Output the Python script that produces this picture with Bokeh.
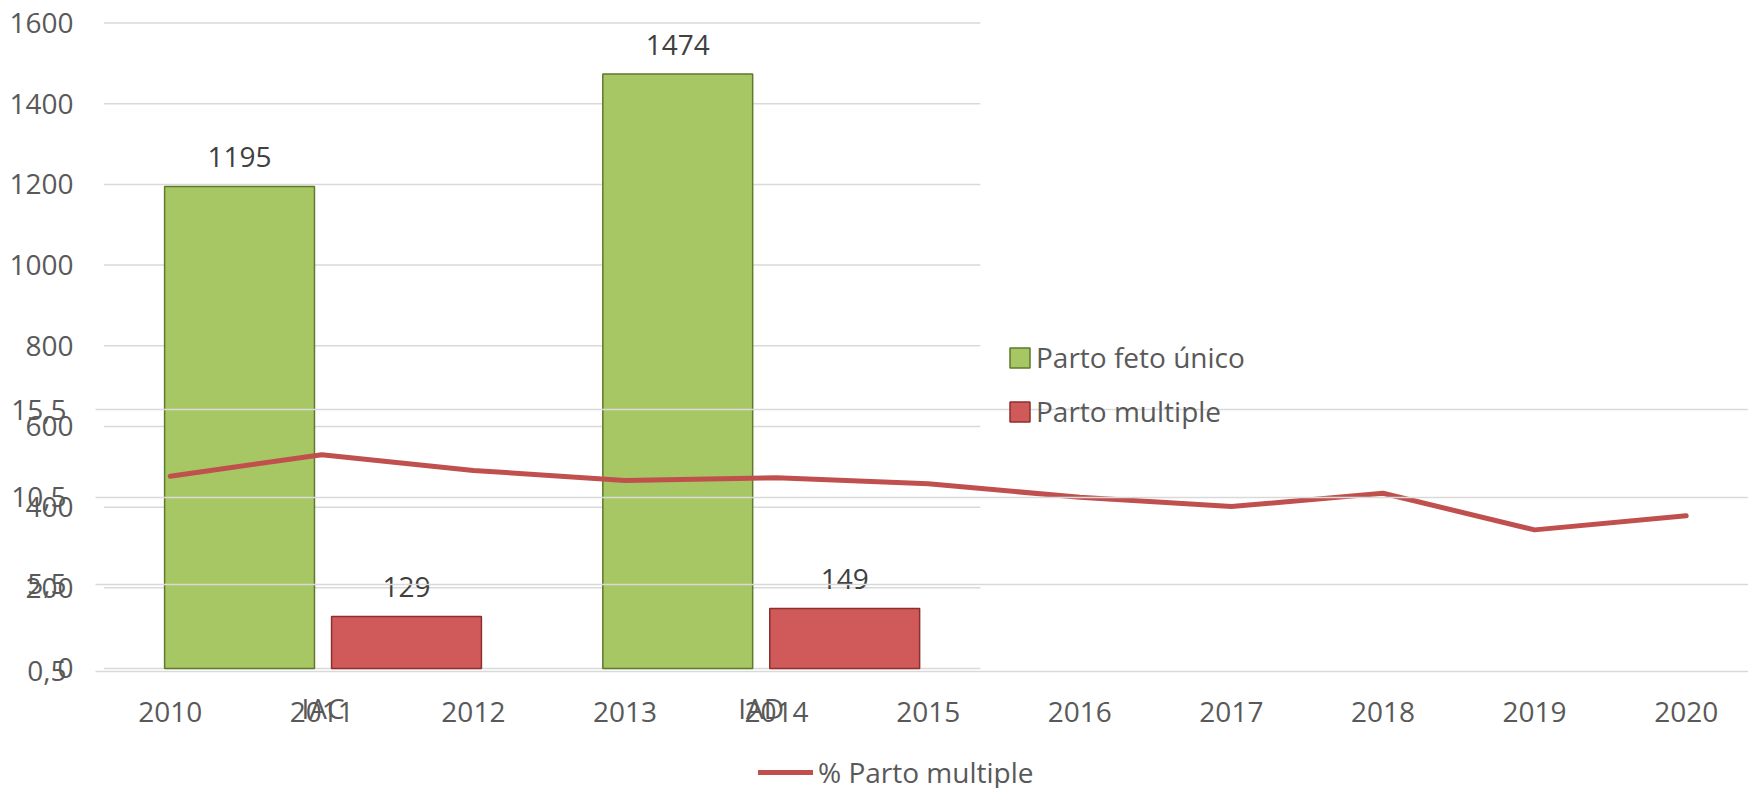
from bokeh.plotting import figure
from bokeh.models import (Range1d, LinearAxis, FixedTicker, Grid, Legend, LegendItem,
                          ColumnDataSource)
from bokeh.transform import dodge
from bokeh.core.properties import value
from bokeh.embed import file_html
from bokeh.resources import INLINE

# ---- Chart A: bars by technique ----
techniques = ["IAC", "IAD"]
parto_unico = [1195, 1474]
parto_multiple = [129, 149]
a_ticks = [0, 200, 400, 600, 800, 1000, 1200, 1400, 1600]

# ---- Chart B: % multiple births per year ----
years = ["2010", "2011", "2012", "2013", "2014", "2015", "2016", "2017", "2018", "2019", "2020"]
pct_multiple = [11.70, 12.93, 12.03, 11.45, 11.61, 11.26, 10.49, 9.96, 10.72, 8.62, 9.43]
b_ticks = [0.5, 5.5, 10.5, 15.5]
b_tick_labels = ["0,5", "5,5", "10,5", "15,5"]

FONT = "Open Sans"
FS = "28px"
TXT = "#595959"
GRID = "#D9D9D9"
GREEN = "#A6C764"
GREEN_EDGE = "#5E7A2A"
RED = "#D05A59"
RED_EDGE = "#8C2F2E"
LINE = "#C0504D"

p = figure(width=1748, height=788, output_backend="svg", toolbar_location=None,
           x_range=Range1d(-0.4927, 10.411), y_range=Range1d(-297.5, 1606.45),
           x_axis_location=None, y_axis_location=None,
           min_border_left=95, min_border_right=0, min_border_top=20, min_border_bottom=0,
           outline_line_color=None, background_fill_color=None, border_fill_color="white")
# drop default grids
p.center = [r for r in p.center if not isinstance(r, Grid)]
p.extra_x_ranges = {"a": Range1d(-0.5192, 3.253)}
p.extra_y_ranges = {"b": Range1d(-6.209, 37.828)}

# Chart A gridlines (only over chart A's plot width)
na = len(techniques)
p.segment(x0=[-0.5] * len(a_ticks), x1=[na - 0.5] * len(a_ticks), y0=a_ticks, y1=a_ticks,
          x_range_name="a", line_color=GRID, line_width=1.5, level="underlay")

src_a = ColumnDataSource(dict(
    idx=list(range(na)), unico=parto_unico, mult=parto_multiple,
    unico_lbl=[str(v) for v in parto_unico], mult_lbl=[str(v) for v in parto_multiple]))

r_unico = p.vbar(x=dodge("idx", -0.1905), top="unico", width=0.342, bottom=0, source=src_a,
                 x_range_name="a", fill_color=GREEN, line_color=GREEN_EDGE, line_width=1.5)
r_mult = p.vbar(x=dodge("idx", 0.1905), top="mult", width=0.342, bottom=0, source=src_a,
                x_range_name="a", fill_color=RED, line_color=RED_EDGE, line_width=1.5)

for col, lbl, off in (("unico", "unico_lbl", -0.1905), ("mult", "mult_lbl", 0.1905)):
    p.text(x=dodge("idx", off), y=col, text=lbl, source=src_a, x_range_name="a",
           text_align="center", text_baseline="middle", y_offset=-29,
           text_font=value(FONT), text_font_size=value(FS), text_color="#404040")

# Chart B
src_b = ColumnDataSource(dict(idx=list(range(len(years))), pct=pct_multiple))
b_grid = Grid(dimension=1, y_range_name="b", ticker=FixedTicker(ticks=b_ticks),
              grid_line_color=GRID, grid_line_width=1.5, level="overlay")
p.add_layout(b_grid)
r_line = p.line(x="idx", y="pct", source=src_b, y_range_name="b", line_color=LINE,
                line_width=5, line_join="round", line_cap="round")


def style(ax, standoff):
    ax.axis_line_color = None
    ax.major_tick_line_color = None
    ax.minor_tick_line_color = None
    ax.major_tick_out = 0
    ax.major_tick_in = 0
    ax.major_label_standoff = standoff
    ax.major_label_text_font = FONT
    ax.major_label_text_font_size = FS
    ax.major_label_text_color = TXT


ax_a_y = LinearAxis(ticker=FixedTicker(ticks=a_ticks))
style(ax_a_y, 22)
p.add_layout(ax_a_y, "left")

ax_b_y = LinearAxis(y_range_name="b", ticker=FixedTicker(ticks=b_ticks),
                    major_label_overrides=dict(zip(b_ticks, b_tick_labels)))
style(ax_b_y, -60)
p.add_layout(ax_b_y, "left")

# category axes drawn at the bars' baseline, inside the frame
ax_b_x = LinearAxis(ticker=FixedTicker(ticks=list(range(len(years)))),
                    major_label_overrides={i: y for i, y in enumerate(years)},
                    fixed_location=0)
style(ax_b_x, 34)
p.add_layout(ax_b_x, "below")

ax_a_x = LinearAxis(x_range_name="a", ticker=FixedTicker(ticks=list(range(na))),
                    major_label_overrides={i: t for i, t in enumerate(techniques)},
                    fixed_location=0)
style(ax_a_x, 21)
p.add_layout(ax_a_x, "below")

leg_a = Legend(items=[LegendItem(label="Parto feto único", renderers=[r_unico]),
                      LegendItem(label="Parto multiple", renderers=[r_mult])],
               location=(912, 358), glyph_width=25, glyph_height=25, label_standoff=4,
               spacing=16, padding=0, margin=0, border_line_color=None,
               background_fill_alpha=0, label_text_font=FONT, label_text_font_size=FS,
               label_text_color=TXT)
p.add_layout(leg_a)

leg_b = Legend(items=[LegendItem(label="% Parto multiple", renderers=[r_line])],
               location=(663, -3), glyph_width=55, label_standoff=5, padding=0, margin=0,
               border_line_color=None, background_fill_alpha=0, label_text_font=FONT,
               label_text_font_size=FS, label_text_color=TXT)
p.add_layout(leg_b)

open("out.html", "w").write(file_html(p, INLINE))
